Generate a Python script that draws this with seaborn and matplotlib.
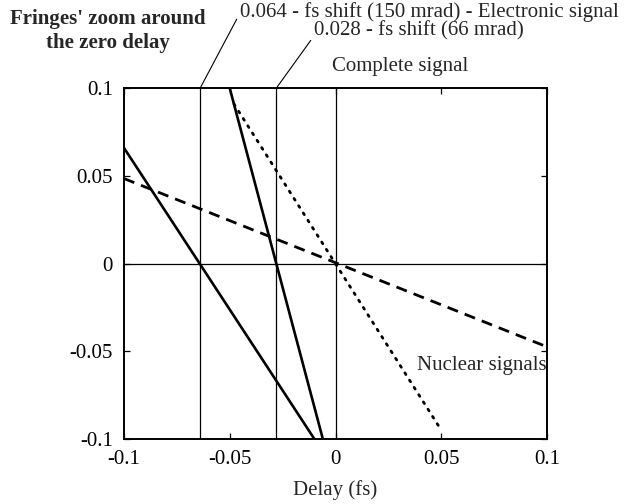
import matplotlib
matplotlib.use("Agg")
import matplotlib.pyplot as plt
import seaborn as sns
import pandas as pd

# Fringe lines near zero delay (delay in fs, signal)
electronic_x = [-0.100, -0.010]
electronic_y = [0.066, -0.100]
complete_x = [-0.050, -0.006]
complete_y = [0.100, -0.100]
nuclear_dash_x = [-0.100, 0.100]
nuclear_dash_y = [0.0485, -0.0475]
nuclear_dot_x = [-0.048, 0.050]
nuclear_dot_y = [0.091, -0.095]

# Zero-crossing shifts marked by vertical lines
shift_positions = [-0.064, -0.028, 0.0]

x_ticks = [-0.1, -0.05, 0, 0.05, 0.1]
x_ticklabels = ["-0.1", "-0.05", "0", "0.05", "0.1"]
y_ticks = [-0.1, -0.05, 0, 0.05, 0.1]
y_ticklabels = ["-0.1", "-0.05", "0", "0.05", "0.1"]

sns.set_style("ticks")
plt.rcParams["font.family"] = ["Liberation Serif", "DejaVu Serif"]

FS = 15

fig = plt.figure(figsize=(6.26, 5.04), dpi=100)
ax = fig.add_axes([0.198, 0.129, 0.676, 0.696])

df_el = pd.DataFrame({"delay": electronic_x, "signal": electronic_y})
df_co = pd.DataFrame({"delay": complete_x, "signal": complete_y})
df_nd = pd.DataFrame({"delay": nuclear_dash_x, "signal": nuclear_dash_y})
df_nt = pd.DataFrame({"delay": nuclear_dot_x, "signal": nuclear_dot_y})

# reference grid lines: shifts and zero signal
for xv in shift_positions:
    ax.axvline(xv, color="black", lw=0.9, zorder=1)
ax.axhline(0, color="black", lw=0.9, zorder=1)

sns.lineplot(data=df_el, x="delay", y="signal", ax=ax, color="black", lw=1.9, sort=False)
sns.lineplot(data=df_co, x="delay", y="signal", ax=ax, color="black", lw=1.9, sort=False)
sns.lineplot(data=df_nd, x="delay", y="signal", ax=ax, color="black", lw=2.0,
             sort=False, linestyle=(0, (4, 2.6)))
sns.lineplot(data=df_nt, x="delay", y="signal", ax=ax, color="black", lw=2.0,
             sort=False, linestyle=(0, (0.7, 2.4)), dash_capstyle="round")

ax.set_xlim(-0.1, 0.1)
ax.set_ylim(-0.1, 0.1)
ax.set_xticks(x_ticks)
ax.set_xticklabels(x_ticklabels)
ax.set_yticks(y_ticks)
ax.set_yticklabels(y_ticklabels)
ax.tick_params(direction="in", length=4, width=0.9, top=True, right=True,
               labelsize=FS, pad=8, colors="black")
for sp in ax.spines.values():
    sp.set_linewidth(1.4)
    sp.set_color("black")
ax.set_xlabel("Delay (fs)", fontsize=FS, labelpad=8)
ax.set_ylabel("")

H = 504
fig.text(108, H - 31, "Fringes' zoom around\nthe zero delay", transform=None,
         ha="center", va="center", fontsize=15, fontweight="bold", linespacing=1.25)

ax.annotate("0.064 - fs shift (150 mrad) - Electronic signal",
            xy=(-0.064, 0.1), xycoords="data",
            xytext=(240, H - 12), textcoords="figure pixels",
            ha="left", va="center", fontsize=FS,
            arrowprops=dict(arrowstyle="-", lw=0.8, color="black",
                            shrinkA=0, shrinkB=0, relpos=(0, 0.45)),
            annotation_clip=False)
ax.annotate("0.028 - fs shift (66 mrad)",
            xy=(-0.028, 0.1), xycoords="data",
            xytext=(314, H - 31), textcoords="figure pixels",
            ha="left", va="center", fontsize=FS,
            arrowprops=dict(arrowstyle="-", lw=0.8, color="black",
                            shrinkA=0, shrinkB=0, relpos=(0, 0.25)),
            annotation_clip=False)
fig.text(332, H - 67, "Complete signal", transform=None,
         ha="left", va="center", fontsize=FS)
ax.text(0.1, -0.058, "Nuclear signals", ha="right", va="center", fontsize=FS)

fig.savefig("out.png", dpi=100, facecolor="white")
